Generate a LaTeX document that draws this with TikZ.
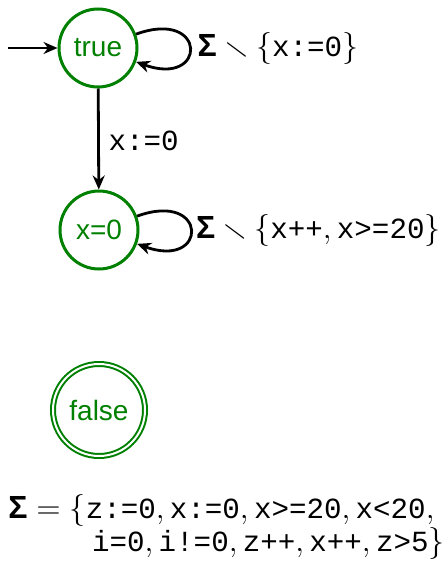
\RequirePackage{fix-cm}
\documentclass[tikz,border=0pt]{standalone}
\usepackage{amssymb}
\usepackage{fontspec}
\setsansfont{Liberation Sans}
\setmonofont{Liberation Mono}
\usetikzlibrary{arrows.meta}
\definecolor{stgreen}{RGB}{0,128,0}
\newcommand{\cd}[1]{\mbox{\fontsize{14.6}{17}\selectfont\ttfamily#1}}
\newcommand{\Sg}{\mbox{\fontsize{16}{19}\selectfont\sffamily\bfseries Σ}}
\begin{document}
\begin{tikzpicture}[x=0.5pt,y=-0.5pt,
  st/.style={circle,draw=stgreen,line width=1.5pt,minimum size=39pt,inner sep=0pt,
    font=\fontsize{14}{17}\sffamily,text=stgreen,fill=white},
  acc/.style={st,double,double distance=1pt,line width=1pt,minimum size=46pt},
  tr/.style={-{Stealth[length=7pt,width=6pt]},line width=1.4pt},
  lbl/.style={font=\fontsize{16}{19}\selectfont}]
 \useasboundingbox (0,0) rectangle (446,562);
 \node[st] (t) at (98,48) {true};
 \node[st] (x0) at (99,230) {x=0};
 \node[acc] (f) at (99,410) {false};
 \coordinate (init) at (8,48);
 \draw[tr] (init) -- (t);
 \draw[tr] (t) -- node[lbl,right=1pt,pos=0.52] (lxz) {$\cd{x:=0}$} (x0);
 \draw[tr] (t) to[out=20,in=-20,min distance=38pt] node[lbl,right] (lt) {$\Sg\smallsetminus\{\cd{x:=0}\}$} (t);
 \draw[tr] (x0) to[out=20,in=-20,min distance=38pt] node[lbl,right,inner xsep=2pt] (lx) {$\Sg\smallsetminus\{\cd{x++},\cd{x>=20}\}$} (x0);
 \node[lbl,inner sep=0pt,anchor=base west] (sig1) at (8,518)
   {$\Sg=\{\cd{z:=0},\cd{x:=0},\cd{x>=20},\cd{x<20},$};
 \node[lbl,inner sep=0pt,anchor=base east] (sig2) at (445,551)
   {$\cd{i=0},\cd{i!=0},\cd{z++},\cd{x++},\cd{z>5}\}$};
\end{tikzpicture}
\end{document}
